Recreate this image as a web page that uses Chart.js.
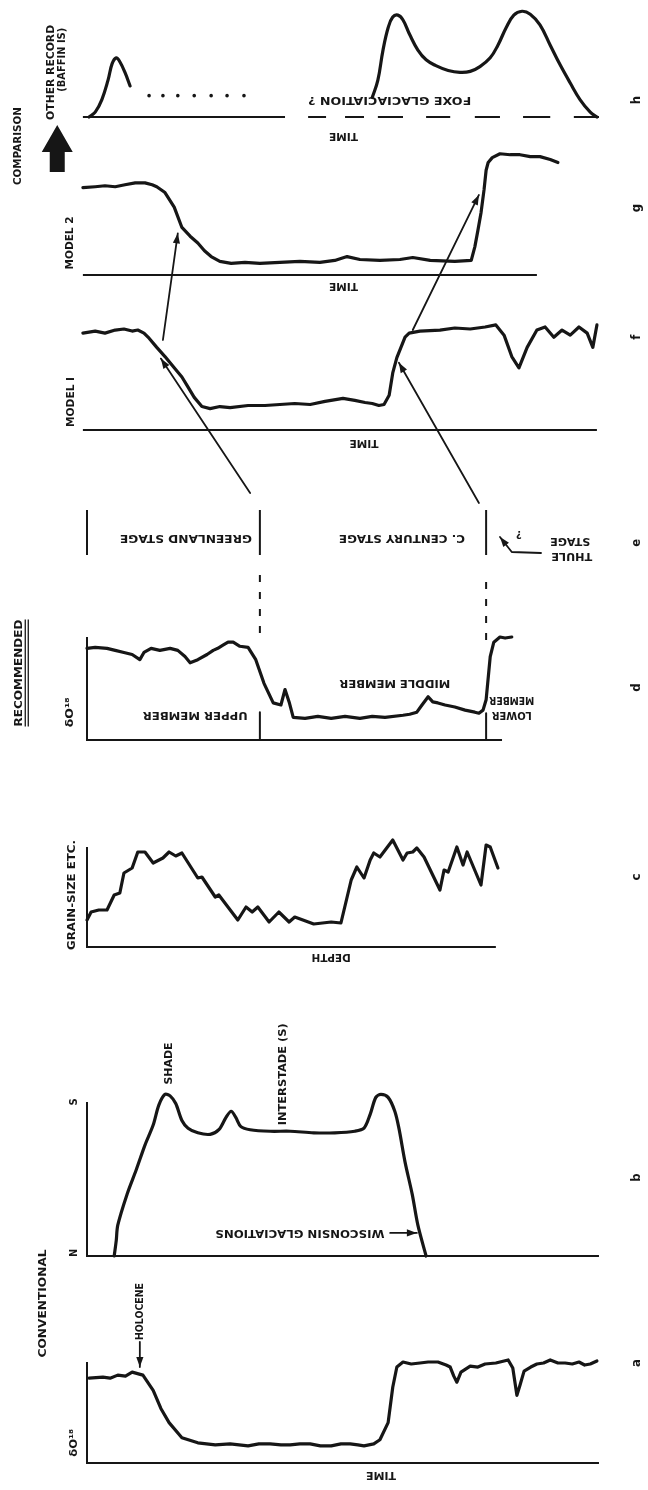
<!DOCTYPE html>
<html lang="en">
<head>
<meta charset="UTF-8" />
<title>Conventional and recommended stratigraphy</title>
<script src="https://cdn.jsdelivr.net/npm/chart.js"></script>
<style>
  body { margin: 0; background: #fff; }
  #figure { position: relative; width: 648px; height: 1490px; }
  #figure canvas { position: absolute; left: 0; top: 0; }
</style>
</head>
<body>
<div id="figure"></div>
<script>
// Every panel shares one time axis: 0 = left axis, 100 = right end of the long baselines.
// Values are in relative units of each panel (0 = baseline, 100 = top of its axis).

// a - conventional, d18O
const aTime = [0.4, 3.1, 4.5, 6.0, 7.5, 8.8, 10.9, 12.9, 14.4, 16.0, 18.5, 21.6, 25.0, 27.9, 31.4, 33.5, 35.7, 37.8, 39.6, 41.5, 43.5, 45.5, 47.6, 49.5, 51.3, 52.8, 54.0, 55.9, 57.1, 58.7, 59.6, 60.4, 61.6, 63.2, 64.9, 66.5, 68.4, 70.0, 70.8, 71.5, 72.1, 72.9, 74.7, 76.2, 77.6, 79.7, 82.1, 83.0, 83.8, 84.4, 85.2, 86.5, 87.7, 89.0, 90.3, 91.8, 93.2, 94.6, 95.9, 97.0, 98.1, 99.4];
const aValue = [84, 85, 84, 87, 86, 90, 87, 72, 54, 40, 25, 20, 18, 19, 17, 19, 19, 18, 18, 19, 19, 17, 17, 19, 19, 18, 17, 19, 23, 40, 75, 95, 100, 98, 99, 100, 100, 97, 95, 86, 80, 90, 96, 95, 98, 99, 102, 94, 67, 77, 91, 95, 98, 99, 102, 99, 99, 98, 100, 97, 98, 101];

// b - conventional, glacial stages (N .. S)
const bTime = [5.3, 5.7, 6.0, 7.8, 9.6, 11.3, 12.9, 14.0, 15.2, 16.2, 17.3, 18.5, 19.7, 21.6, 24.0, 25.7, 27.1, 28.1, 29.0, 30.0, 31.8, 35.7, 39.6, 44.2, 48.3, 52.2, 54.0, 55.2, 56.3, 57.3, 58.7, 60.0, 60.8, 62.0, 63.4, 64.5, 66.1];
const bValue = [0, 10, 20, 40, 56, 72, 85, 98, 105, 104, 99, 88, 83, 80, 79, 82, 90, 94, 90, 84, 82, 81, 81, 80, 80, 81, 83, 92, 103, 105, 103, 94, 83, 61, 40, 20, 0];

// c - grain size etc. against depth
const cDepth = [0, 0.8, 2.3, 3.9, 5.3, 6.4, 7.2, 8.8, 9.9, 11.3, 12.9, 14.8, 16.0, 17.3, 18.5, 21.6, 22.4, 25.0, 25.7, 29.4, 31.0, 32.2, 33.3, 35.5, 37.4, 39.4, 40.5, 44.2, 47.6, 49.5, 51.5, 52.6, 54.0, 55.2, 55.9, 57.1, 59.6, 61.6, 62.4, 63.5, 64.3, 65.7, 68.8, 69.6, 70.4, 72.1, 73.3, 74.1, 76.8, 77.8, 78.6, 80.1];
const cGrain = [27, 35, 37, 37, 52, 54, 74, 79, 95, 95, 84, 89, 95, 91, 94, 69, 70, 50, 52, 27, 40, 35, 40, 25, 35, 25, 30, 23, 25, 24, 67, 80, 69, 87, 94, 90, 107, 87, 94, 95, 99, 90, 57, 77, 75, 100, 82, 95, 62, 102, 100, 79];

// d - recommended, d18O
const dTime = [0, 1.6, 3.9, 5.5, 7.2, 8.8, 10.3, 11.1, 12.5, 14.2, 16.2, 17.7, 19.1, 20.1, 21.6, 23.4, 24.6, 25.5, 26.5, 27.5, 28.5, 29.8, 31.4, 32.9, 34.5, 36.3, 37.8, 38.6, 39.4, 40.2, 42.5, 45.0, 47.6, 50.3, 53.2, 55.6, 58.1, 61.6, 62.9, 64.3, 65.3, 66.5, 67.4, 68.4, 69.8, 71.7, 73.7, 75.6, 76.4, 77.2, 77.8, 78.6, 79.3, 80.5, 81.5, 82.8];
const dValue = [89, 90, 89, 87, 85, 83, 78, 85, 89, 87, 89, 87, 81, 75, 78, 83, 87, 89, 92, 95, 95, 91, 90, 78, 55, 36, 34, 49, 37, 22, 21, 23, 21, 23, 21, 23, 22, 24, 25, 27, 34, 42, 37, 36, 34, 32, 29, 27, 26, 29, 39, 81, 95, 100, 99, 100];

// e - stage boundaries (Greenland | C. Century | Thule)
const stageBounds = [0, 33.7, 77.8];

// f - model 1
const fTime = [-0.8, 1.6, 3.5, 5.5, 7.2, 8.8, 9.9, 11.1, 12.1, 13.6, 15.2, 17.0, 18.5, 19.7, 20.9, 22.4, 24.0, 25.9, 27.9, 31.4, 34.7, 37.6, 40.5, 43.5, 46.4, 49.9, 52.2, 54.2, 55.6, 56.9, 57.9, 58.9, 59.6, 60.4, 61.2, 62.0, 62.8, 64.9, 68.8, 71.7, 74.7, 77.6, 79.7, 81.3, 82.8, 84.2, 85.8, 87.7, 89.3, 91.0, 92.6, 94.2, 95.9, 97.5, 98.6, 99.4];
const fValue = [95, 97, 95, 98, 99, 97, 98, 95, 90, 81, 72, 61, 52, 42, 32, 23, 21, 23, 22, 24, 24, 25, 26, 25, 28, 31, 29, 27, 26, 24, 25, 34, 56, 71, 81, 91, 95, 97, 98, 100, 99, 101, 103, 93, 72, 61, 81, 98, 101, 91, 98, 93, 101, 95, 81, 103];

// g - model 2
const gTime = [-0.8, 1.6, 3.5, 5.5, 7.4, 9.4, 11.3, 12.7, 13.6, 15.2, 17.0, 18.5, 20.1, 21.6, 22.9, 24.2, 25.9, 28.1, 30.8, 33.7, 37.6, 41.5, 45.4, 48.3, 50.7, 53.2, 57.1, 61.0, 63.5, 66.9, 71.7, 74.9, 75.6, 76.2, 76.8, 77.4, 77.8, 78.2, 79.0, 80.5, 82.5, 84.4, 86.4, 88.3, 90.3, 91.8];
const gValue = [90, 91, 92, 91, 93, 95, 95, 93, 91, 85, 70, 49, 40, 33, 25, 19, 14, 12, 13, 12, 13, 14, 13, 15, 19, 16, 15, 16, 18, 15, 14, 15, 29, 46, 64, 88, 108, 116, 121, 125, 124, 124, 122, 122, 119, 116];

// h - other record (Baffin Is.)
const hTime1 = [0.4, 1.6, 2.9, 4.1, 4.9, 5.7, 6.4, 7.4, 8.4];
const hValue1 = [0, 5, 18, 38, 55, 61, 57, 46, 32];
const hDotTime = [12.1, 14.8, 17.7, 20.9, 24.2, 27.3, 30.6];
const hDotValue = [22, 22, 22, 22, 22, 22, 22];
const hTime2 = [55.6, 56.7, 57.7, 58.7, 59.6, 60.6, 61.6, 62.9, 64.5, 66.1, 68.0, 70.4, 72.7, 74.7, 76.6, 78.6, 80.1, 81.7, 83.2, 84.8, 86.4, 88.3, 90.3, 92.2, 94.2, 96.1, 98.1, 99.4];
const hValue2 = [20, 38, 69, 92, 103, 105, 100, 85, 69, 59, 53, 48, 46, 47, 52, 61, 74, 92, 105, 109, 106, 95, 74, 54, 35, 18, 5, 0];
const hDashStart = [43.1, 50.3, 56.7, 66.1, 75.6, 85.0, 94.9];
const hDashEnd = [46.6, 54.0, 61.6, 70.8, 80.5, 90.3, 99.8];

const INK = '#161616';
const FONT = '"DejaVu Sans Condensed", "DejaVu Sans", sans-serif';

const pts = (xs, ys) => xs.map((x, i) => ({ x: x, y: ys[i] }));

function curve(xs, ys, extra) {
  return Object.assign({
    data: pts(xs, ys),
    borderColor: INK,
    borderWidth: 3.2,
    pointRadius: 0,
    tension: 0,
    clip: false,
    borderJoinStyle: 'round',
    borderCapStyle: 'round',
  }, extra);
}
const rule = (xs, ys, extra) => curve(xs, ys, Object.assign({ borderWidth: 2, borderCapStyle: 'butt' }, extra));
const frame = (x0, end) => rule([x0, x0, end], [100, 0, 0], { borderJoinStyle: 'miter' });

// text: t, x, y (panel units), rot (deg), w (target length px)
const panels = [
  { // h
    top: 20, bottom: 117,
    datasets: [
      frame(-0.8, 38.6),
      ...hDashStart.map((s, i) => rule([s, hDashEnd[i]], [0, 0])),
      curve(hTime1, hValue1, { tension: 0.4 }),
      { data: pts(hDotTime, hDotValue), showLine: false, pointRadius: 1.8, pointBackgroundColor: INK, pointBorderWidth: 0, clip: false },
      curve(hTime2, hValue2, { tension: 0.4 }),
    ],
    texts: [
      { t: 'TIME', x: 50, y: -19.5, rot: 180, w: 29 },
      { t: 'FOXE GLACIACIATION ?', x: 59, y: 17.5, rot: 180, w: 163 },
      { t: 'OTHER RECORD', x: -7, y: 46, rot: -90, w: 95 },
      { t: '(BAFFIN IS)', x: -4.9, y: 59, rot: -90, w: 64 },
      { t: 'COMPARISON', x: -13.5, y: -30, rot: -90, w: 78 },
      { t: 'h', x: 107.2, y: 17.5, rot: -90, letter: true },
    ],
    blocks: [{ x: -5.8, from: -56.7, to: -8.2 }],
  },
  { // g
    top: 178, bottom: 275,
    datasets: [frame(-0.8, 87.7), curve(gTime, gValue)],
    texts: [
      { t: 'TIME', x: 50, y: -11.5, rot: 180, w: 29 },
      { t: 'MODEL 2', x: -3.3, y: 33, rot: -90, w: 53 },
      { t: 'g', x: 107.2, y: 69, rot: -90, letter: true },
    ],
    arrows: [
      [[14.8, -67], [17.7, 43]],
      [[63.5, -56.7], [76.4, 82.5]],
    ],
  },
  { // f
    top: 328, bottom: 430,
    datasets: [frame(-0.8, 99.4), curve(fTime, fValue)],
    texts: [
      { t: 'TIME', x: 54, y: -12.7, rot: 180, w: 29 },
      { t: 'MODEL I', x: -3, y: 27.5, rot: -90, w: 50 },
      { t: 'f', x: 107.2, y: 91, rot: -90, letter: true },
    ],
    arrows: [
      [[31.8, -61.8], [14.4, 70]],
      [[76.4, -71.6], [60.8, 66]],
    ],
  },
  { // e
    top: 510, bottom: 555,
    datasets: stageBounds.map(s => rule([s, s], [0, 100])),
    texts: [
      { t: 'GREENLAND STAGE', x: 19.3, y: 38, rot: 180, w: 132 },
      { t: 'C. CENTURY STAGE', x: 61.4, y: 38, rot: 180, w: 126 },
      { t: 'STAGE', x: 94.2, y: 31, rot: 180, w: 40 },
      { t: 'THULE', x: 94.5, y: -2, rot: 180, w: 41 },
      { t: '?', x: 84.2, y: 46, rot: 180 },
      { t: 'e', x: 107.2, y: 27, rot: -90, letter: true },
    ],
    arrows: [[[88.5, 4.4], [82.8, 6.7], [80.5, 40]]],
  },
  { // d
    top: 637, bottom: 740,
    datasets: [
      frame(0, 80.9),
      curve(dTime, dValue),
      rule([stageBounds[1], stageBounds[1]], [27, 0]),
      rule([stageBounds[2], stageBounds[2]], [26, 0]),
      rule([stageBounds[1], stageBounds[1]], [104, 162], { borderDash: [7, 10] }),
      rule([stageBounds[2], stageBounds[2]], [97, 162], { borderDash: [7, 10] }),
    ],
    texts: [
      { t: 'δO¹⁸', x: -3.3, y: 27, rot: -90, w: 30 },
      { t: 'RECOMMENDED', x: -13.3, y: 65, rot: -90, w: 107, underline: true },
      { t: 'UPPER MEMBER', x: 21.1, y: 24, rot: 180, w: 105 },
      { t: 'MIDDLE MEMBER', x: 60, y: 55, rot: 180, w: 111 },
      { t: 'MEMBER', x: 82.8, y: 39, rot: 180, w: 45 },
      { t: 'LOWER', x: 82.8, y: 24, rot: 180, w: 40 },
      { t: 'd', x: 107.2, y: 51, rot: -90, letter: true },
    ],
  },
  { // c
    top: 847, bottom: 947,
    datasets: [frame(0, 79.7), curve(cDepth, cGrain)],
    texts: [
      { t: 'DEPTH', x: 47.6, y: -10, rot: 180, w: 39 },
      { t: 'GRAIN-SIZE ETC.', x: -2.8, y: 52, rot: -90, w: 110 },
      { t: 'c', x: 107.2, y: 70, rot: -90, letter: true },
    ],
  },
  { // b
    top: 1102, bottom: 1256,
    datasets: [frame(0, 99.8), curve(bTime, bValue, { tension: 0.3 })],
    texts: [
      { t: 'S', x: -2.5, y: 100, rot: -90 },
      { t: 'N', x: -2.5, y: 2, rot: -90 },
      { t: 'SHADE', x: 16, y: 125, rot: -90, w: 42 },
      { t: 'INTERSTADE (S)', x: 38.2, y: 118, rot: -90, w: 102 },
      { t: 'WISCONSIN GLACIATIONS', x: 41.5, y: 15, rot: 180, w: 169 },
      { t: 'b', x: 107.2, y: 51, rot: -90, letter: true },
    ],
    arrows: [[[59.1, 15], [64.3, 15]]],
  },
  { // a
    top: 1362, bottom: 1463,
    datasets: [frame(0, 99.8), curve(aTime, aValue)],
    texts: [
      { t: 'TIME', x: 57.3, y: -12, rot: 180, w: 30 },
      { t: 'δO¹⁸', x: -2.5, y: 20, rot: -90, w: 28 },
      { t: 'HOLOCENE', x: 10.3, y: 150, rot: -90, w: 57 },
      { t: 'CONVENTIONAL', x: -8.6, y: 158, rot: -90, w: 108 },
      { t: 'a', x: 107.2, y: 99, rot: -90, letter: true },
    ],
    arrows: [[[10.3, 120], [10.3, 95]]],
  },
];

function arrowHead(ctx, x1, y1, x2, y2, len, half) {
  const a = Math.atan2(y2 - y1, x2 - x1);
  const bx = x2 - len * Math.cos(a), by = y2 - len * Math.sin(a);
  ctx.beginPath();
  ctx.moveTo(x2, y2);
  ctx.lineTo(bx + half * Math.sin(a), by - half * Math.cos(a));
  ctx.lineTo(bx - half * Math.sin(a), by + half * Math.cos(a));
  ctx.closePath();
  ctx.fill();
}

const figurePlugin = {
  id: 'figure',
  afterDatasetsDraw(chart, args, opts) {
    const { ctx } = chart;
    const sx = chart.scales.x, sy = chart.scales.y;
    const P = (p) => [sx.getPixelForValue(p[0]), sy.getPixelForValue(p[1])];
    ctx.save();
    ctx.fillStyle = INK;
    ctx.strokeStyle = INK;
    ctx.lineCap = 'round';
    ctx.lineJoin = 'round';

    (opts.arrows || []).forEach((path) => {
      const px = path.map(P);
      ctx.lineWidth = 1.8;
      ctx.beginPath();
      px.forEach(([x, y], i) => (i ? ctx.lineTo(x, y) : ctx.moveTo(x, y)));
      ctx.stroke();
      const [x1, y1] = px[px.length - 2], [x2, y2] = px[px.length - 1];
      arrowHead(ctx, x1, y1, x2, y2, 10, 3.6);
    });

    (opts.blocks || []).forEach((b) => {
      const [x, yt] = P([b.x, b.from]);
      const yh = sy.getPixelForValue(b.to);
      const s = 7.5, hw = 15.5, hl = 27;
      ctx.beginPath();
      ctx.moveTo(x - s, yt);
      ctx.lineTo(x - s, yh + hl);
      ctx.lineTo(x - hw, yh + hl);
      ctx.lineTo(x, yh);
      ctx.lineTo(x + hw, yh + hl);
      ctx.lineTo(x + s, yh + hl);
      ctx.lineTo(x + s, yt);
      ctx.closePath();
      ctx.fill();
    });

    (opts.texts || []).forEach((t) => {
      const [x, y] = P([t.x, t.y]);
      ctx.save();
      ctx.translate(x, y);
      ctx.rotate((t.rot * Math.PI) / 180);
      ctx.font = t.letter ? `bold 13px ${FONT}` : `bold 11px ${FONT}`;
      ctx.textAlign = 'center';
      ctx.textBaseline = 'middle';
      const m = ctx.measureText(t.t).width;
      if (t.w) ctx.scale(t.w / m, 1);
      ctx.fillText(t.t, 0, 0);
      if (t.underline) {
        ctx.lineWidth = 1.3;
        ctx.lineCap = 'butt';
        [6.5, 9.5].forEach((o) => {
          ctx.beginPath();
          ctx.moveTo(-m / 2, o);
          ctx.lineTo(m / 2, o);
          ctx.stroke();
        });
      }
      ctx.restore();
    });
    ctx.restore();
  },
};

const holder = document.getElementById('figure');
panels.forEach((p) => {
  const canvas = document.createElement('canvas');
  canvas.width = 648;
  canvas.height = 1490;
  holder.appendChild(canvas);
  new Chart(canvas.getContext('2d'), {
    type: 'line',
    data: { datasets: p.datasets },
    plugins: [figurePlugin],
    options: {
      responsive: false,
      animation: false,
      events: [],
      layout: { padding: { left: 87, right: 48, top: p.top, bottom: 1490 - p.bottom } },
      plugins: {
        legend: { display: false },
        tooltip: { enabled: false },
        figure: { texts: p.texts, arrows: p.arrows, blocks: p.blocks },
      },
      scales: {
        x: { type: 'linear', min: 0, max: 100, display: false },
        y: { type: 'linear', min: 0, max: 100, display: false },
      },
    },
  });
});
</script>
</body>
</html>
